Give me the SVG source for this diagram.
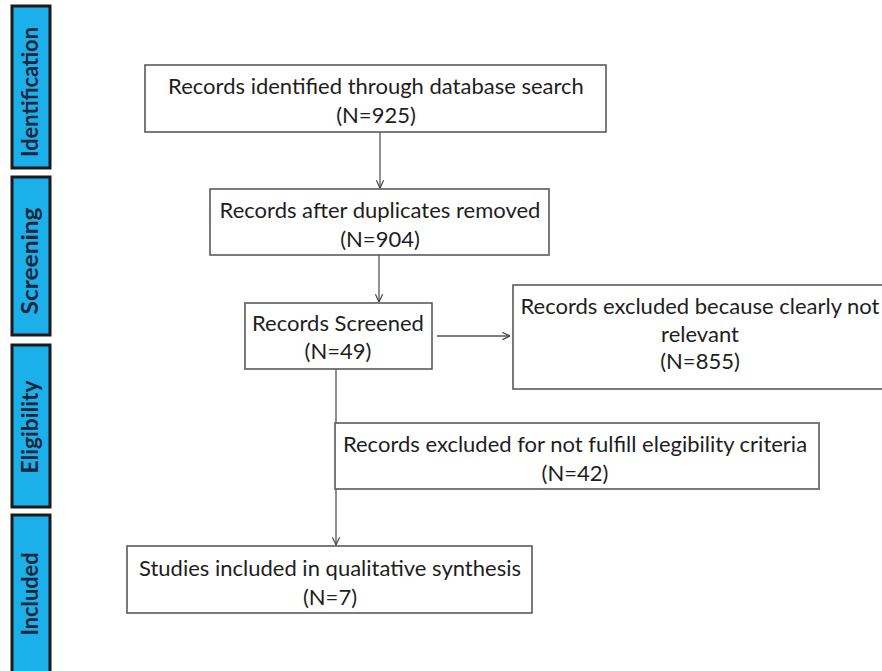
<svg xmlns="http://www.w3.org/2000/svg" width="882" height="671" viewBox="0 0 882 671">
  <defs>
    <marker id="arrow" viewBox="0 0 10 10" refX="9.5" refY="5" markerWidth="9" markerHeight="9" markerUnits="userSpaceOnUse" orient="auto">
      <path d="M1,1 L9.5,5 L1,9" fill="none" stroke="#444" stroke-width="1.3"/>
    </marker>
    <style>
      .phase { fill: #1bb0ea; stroke: #1a1a1a; stroke-width: 3; }
      .phase-label { font-family: Lato, "Open Sans", sans-serif; font-weight: bold; font-size: 22px; fill: #16263a; text-anchor: middle; }
      .box { fill: #ffffff; stroke: #5a5a5a; stroke-width: 1.6; }
      .label { font-family: Lato, "Open Sans", sans-serif; font-size: 22px; fill: #1e1e1e; text-anchor: middle; }
      .link { fill: none; stroke: #555; stroke-width: 1.3; }
    </style>
  </defs>
  <rect width="882" height="671" fill="#ffffff"/>

  <!-- phase bars -->
  <g id="phase-identification">
    <rect class="phase" x="12" y="6" width="38" height="162"/>
    <text class="phase-label" transform="translate(37.5,92) rotate(-90)" textLength="130" lengthAdjust="spacingAndGlyphs">Identification</text>
  </g>
  <g id="phase-screening">
    <rect class="phase" x="12" y="177" width="38" height="158"/>
    <text class="phase-label" transform="translate(37.5,261) rotate(-90)" textLength="107" lengthAdjust="spacingAndGlyphs">Screening</text>
  </g>
  <g id="phase-eligibility">
    <rect class="phase" x="12" y="345" width="38" height="162"/>
    <text class="phase-label" transform="translate(37.5,427) rotate(-90)" textLength="93" lengthAdjust="spacingAndGlyphs">Eligibility</text>
  </g>
  <g id="phase-included">
    <rect class="phase" x="12" y="515" width="38" height="170"/>
    <text class="phase-label" transform="translate(37.5,594) rotate(-90)" textLength="83" lengthAdjust="spacingAndGlyphs">Included</text>
  </g>

  <!-- connectors -->
  <g id="connectors">
    <line class="link" x1="380" y1="132" x2="380" y2="188" marker-end="url(#arrow)"/>
    <line class="link" x1="379" y1="255" x2="379" y2="302" marker-end="url(#arrow)"/>
    <line class="link" x1="437" y1="336" x2="510" y2="336" marker-end="url(#arrow)"/>
    <line class="link" x1="336" y1="369" x2="336" y2="545" marker-end="url(#arrow)"/>
  </g>

  <g id="identified">
    <rect class="box" x="145" y="65" width="461" height="67"/>
    <text class="label" x="376" y="94">Records identified through database search</text>
    <text class="label" x="376" y="123">(N=925)</text>
  </g>
  <g id="deduplicated">
    <rect class="box" x="210" y="189" width="339" height="66"/>
    <text class="label" x="380" y="218">Records after duplicates removed</text>
    <text class="label" x="380" y="247">(N=904)</text>
  </g>
  <g id="screened">
    <rect class="box" x="245" y="303" width="187" height="66"/>
    <text class="label" x="338" y="331">Records Screened</text>
    <text class="label" x="338" y="359">(N=49)</text>
  </g>
  <g id="excluded-not-relevant">
    <rect class="box" x="513" y="285" width="374" height="104"/>
    <text class="label" x="700" y="314">Records excluded because clearly not</text>
    <text class="label" x="700" y="342">relevant</text>
    <text class="label" x="700" y="369">(N=855)</text>
  </g>
  <g id="excluded-eligibility">
    <rect class="box" x="335" y="423" width="484" height="66"/>
    <text class="label" x="575" y="452">Records excluded for not fulfill elegibility criteria</text>
    <text class="label" x="575" y="481">(N=42)</text>
  </g>
  <g id="included">
    <rect class="box" x="127" y="546" width="405" height="67"/>
    <text class="label" x="330" y="576">Studies included in qualitative synthesis</text>
    <text class="label" x="330" y="605">(N=7)</text>
  </g>
</svg>
